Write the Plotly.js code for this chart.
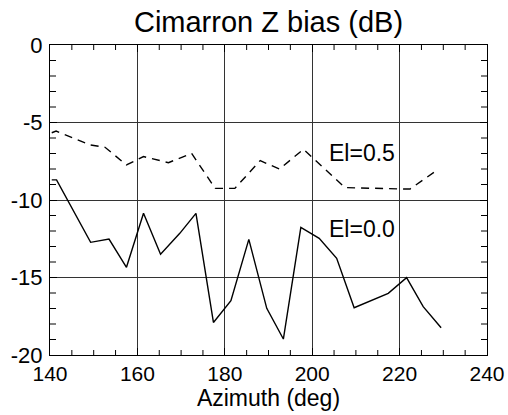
<!DOCTYPE html>
<html><head><meta charset="utf-8">
<script src="https://cdn.plot.ly/plotly-3.0.1.min.js"></script>
<style>html,body{margin:0;padding:0;background:#fff}#chart{width:508px;height:415px}</style>
</head><body><div id="chart"></div>
<script>
// El=0.0 series (solid)
const az00 = [140.4, 141.5, 149.3, 153.5, 157.5, 161.4, 165.3, 169.7, 173.4, 177.4, 181.4, 185.5, 189.6, 193.4, 197.4, 201.6, 205.6, 209.6, 217.4, 221.6, 225.4, 229.5];
const bias00 = [-8.7, -8.7, -12.73, -12.52, -14.34, -10.86, -13.5, -12.15, -10.86, -17.9, -16.5, -12.54, -16.99, -18.97, -11.76, -12.47, -13.76, -16.95, -16.02, -15.01, -16.88, -18.24];
// El=0.5 series (dashed)
const az05 = [140.4, 141.4, 149.2, 152.6, 157.5, 161.4, 167.1, 172.4, 177.8, 182.3, 188.1, 192.5, 198.0, 207.5, 220.8, 222.4, 228.3];
const bias05 = [-5.66, -5.55, -6.45, -6.6, -7.74, -7.2, -7.59, -6.99, -9.25, -9.25, -7.46, -8.0, -6.73, -9.2, -9.29, -9.29, -8.13];
const labels = ["El=0.5", "El=0.0"];
const labelX = [203.3, 203.3];
const labelY = [-6.94, -11.9];
const xTickVals = [140, 160, 180, 200, 220, 240];
const yTickVals = [0, -5, -10, -15, -20];
const yTickText = ["0", "-5", "-10", "-15", "-20"];
const xMinorVals = [145, 150, 155, 165, 170, 175, 185, 190, 195, 205, 210, 215, 225, 230, 235];
const yMinorVals = [-1, -2, -3, -4, -6, -7, -8, -9, -11, -12, -13, -14, -16, -17, -18, -19];

const FONT = 'Arial, "Liberation Sans", Helvetica, sans-serif';
const traces = [
  {x: az05, y: bias05, mode: 'lines', line: {color: '#000', width: 1.4, dash: '8px,6px'}, hoverinfo: 'skip'},
  {x: az00, y: bias00, mode: 'lines', line: {color: '#000', width: 1.4}, hoverinfo: 'skip'}
];
const annotations = labels.map((t, i) => ({
  x: labelX[i], y: labelY[i], xref: 'x', yref: 'y', text: t, showarrow: false,
  xanchor: 'left', yanchor: 'middle', font: {family: FONT, size: 23, color: '#000'}
}));
// inside minor tick marks on all four sides
const tickLine = {color: '#000', width: 1};
const shapes = [];
xMinorVals.forEach(v => {
  shapes.push({type: 'line', layer: 'above', xref: 'x', yref: 'paper', ysizemode: 'pixel', yanchor: 0, x0: v, x1: v, y0: 0, y1: 5, line: tickLine});
  shapes.push({type: 'line', layer: 'above', xref: 'x', yref: 'paper', ysizemode: 'pixel', yanchor: 1, x0: v, x1: v, y0: 0, y1: -5, line: tickLine});
});
yMinorVals.forEach(v => {
  shapes.push({type: 'line', layer: 'above', xref: 'paper', yref: 'y', xsizemode: 'pixel', xanchor: 0, y0: v, y1: v, x0: 0, x1: 6, line: tickLine});
  shapes.push({type: 'line', layer: 'above', xref: 'paper', yref: 'y', xsizemode: 'pixel', xanchor: 1, y0: v, y1: v, x0: 0, x1: -6, line: tickLine});
});
const layout = {
  width: 508, height: 415,
  margin: {l: 50, r: 21, t: 45, b: 60},
  paper_bgcolor: '#fff', plot_bgcolor: '#fff',
  showlegend: false,
  font: {family: FONT, color: '#000'},
  title: {text: 'Cimarron Z bias (dB)', x: 0.5, xref: 'paper', y: 0.948, yref: 'container', yanchor: 'middle',
          font: {family: FONT, size: 29, color: '#000'}},
  xaxis: {
    range: [140, 240], tickmode: 'array', tickvals: xTickVals, ticktext: xTickVals.map(String),
    showline: true, linecolor: '#000', linewidth: 1, mirror: 'allticks',
    ticks: 'inside', ticklen: 7, tickwidth: 1, tickcolor: '#000',
    showgrid: true, gridcolor: '#333', zeroline: false,
    tickfont: {family: FONT, size: 21, color: '#000'},
    title: {text: 'Azimuth (deg)', standoff: 3, font: {family: FONT, size: 23, color: '#000'}}
  },
  yaxis: {
    range: [-20, 0], tickmode: 'array', tickvals: yTickVals, ticktext: yTickText,
    showline: true, linecolor: '#000', linewidth: 1, mirror: 'allticks',
    ticks: 'inside', ticklen: 7, tickwidth: 1, tickcolor: '#000', ticklabelstandoff: 2,
    showgrid: true, gridcolor: '#333', zeroline: false,
    tickfont: {family: FONT, size: 22, color: '#000'}
  },
  annotations: annotations,
  shapes: shapes
};
Plotly.newPlot('chart', traces, layout, {displayModeBar: false});
</script></body></html>
